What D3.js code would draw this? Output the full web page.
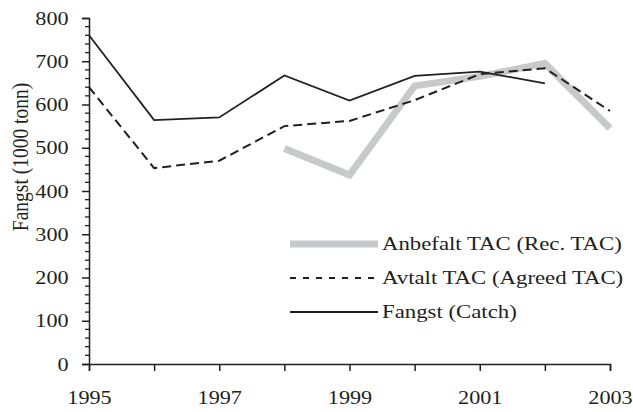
<!DOCTYPE html>
<html lang="en">
<head>
<meta charset="utf-8">
<script src="https://d3js.org/d3.v7.min.js"></script>
<style>
  body { margin: 0; background: #fff; }
  text { font-family: "Liberation Serif", "Times New Roman", serif; fill: #231f20; }
</style>
</head>
<body>
<script>
// data
var years    = [1995, 1996, 1997, 1998, 1999, 2000, 2001, 2002, 2003];
var recTAC   = [null, null, null, 498, 437, 643, 665, 695, 545];
var agreeTAC = [640, 453, 470, 550, 562, 610, 670, 684, 585];
var catchT   = [760, 564, 570, 667, 609, 666, 676, 649, null];
var yTicks   = [0, 100, 200, 300, 400, 500, 600, 700, 800];
var xLabels  = [1995, 1997, 1999, 2001, 2003];
var legendNames = ["Anbefalt TAC (Rec. TAC)", "Avtalt TAC (Agreed TAC)", "Fangst (Catch)"];

var W = 633, H = 412;
var sx = 1.2; // the reference is stretched sideways
var ink = "#231f20";

var svg = d3.select("body").append("svg")
    .attr("width", W)
    .attr("height", H);

var x = d3.scaleLinear().domain([1995, 2003]).range([89, 610]);
var y = d3.scaleLinear().domain([0, 800]).range([364, 18]);

// y axis: minor ticks every 20
var yAxisG = svg.append("g").attr("transform", "translate(89,0)");
yAxisG.selectAll(".minor")
    .data(d3.range(0, 801, 20).filter(function(d) { return d % 100 != 0; }))
    .enter().append("line")
    .attr("x1", -4).attr("x2", 0)
    .attr("y1", function(d) { return y(d); })
    .attr("y2", function(d) { return y(d); })
    .attr("stroke", ink).attr("stroke-width", 1.3);

yAxisG.call(d3.axisLeft(y).tickValues(yTicks).tickSize(7).tickPadding(10))
    .call(function(g) {
        g.select(".domain").attr("stroke", ink).attr("stroke-width", 1.5);
        g.selectAll(".tick line").attr("stroke", ink).attr("stroke-width", 1.5);
        g.selectAll(".tick text")
            .attr("font-family", "Liberation Serif")
            .attr("font-size", 18.5)
            .attr("fill", ink)
            .attr("dy", "0.33em")
            .attr("transform", "scale(" + sx + ",1)");
    });

// x axis: ticks each year, labels every other year
var xAxisG = svg.append("g").attr("transform", "translate(0,364)");
xAxisG.call(d3.axisBottom(x).tickValues(years).tickSize(7).tickPadding(20)
        .tickFormat(function(d) { return xLabels.indexOf(d) >= 0 ? d : ""; }))
    .call(function(g) {
        g.select(".domain").attr("stroke", ink).attr("stroke-width", 1.5);
        g.selectAll(".tick line").attr("stroke", ink).attr("stroke-width", 1.5);
        g.selectAll(".tick text")
            .attr("font-family", "Liberation Serif")
            .attr("font-size", 18.5)
            .attr("fill", ink)
            .attr("transform", "scale(" + sx + ",1)");
    });

// y label
svg.append("text")
    .attr("transform", "translate(28,157) scale(" + sx + ",1) rotate(-90)")
    .attr("text-anchor", "middle")
    .attr("font-size", 19.5)
    .text("Fangst (1000 tonn)");

function series(vals) {
    return years.map(function(yr, i) { return { year: yr, v: vals[i] }; });
}
var line = d3.line()
    .defined(function(d) { return d.v != null; })
    .x(function(d) { return x(d.year); })
    .y(function(d) { return y(d.v); });

svg.append("path")
    .datum(series(recTAC))
    .attr("d", line)
    .attr("fill", "none")
    .attr("stroke", "#c8c9cb")
    .attr("stroke-width", 7);

svg.append("path")
    .datum(series(agreeTAC))
    .attr("d", line)
    .attr("fill", "none")
    .attr("stroke", ink)
    .attr("stroke-width", 2)
    .attr("stroke-dasharray", "9,5");

svg.append("path")
    .datum(series(catchT))
    .attr("d", line)
    .attr("fill", "none")
    .attr("stroke", ink)
    .attr("stroke-width", 1.8);

// legend
var legendStyles = [
    { stroke: "#c8c9cb", width: 7, dash: null },
    { stroke: ink, width: 1.8, dash: "6,7" },
    { stroke: ink, width: 1.8, dash: null }
];
var leg = svg.append("g").selectAll("g")
    .data(legendNames)
    .enter().append("g")
    .attr("transform", function(d, i) { return "translate(290," + (244 + i * 34) + ")"; });

leg.append("line")
    .attr("x1", 0).attr("x2", 88)
    .attr("stroke", function(d, i) { return legendStyles[i].stroke; })
    .attr("stroke-width", function(d, i) { return legendStyles[i].width; })
    .attr("stroke-dasharray", function(d, i) { return legendStyles[i].dash; });

leg.append("text")
    .attr("transform", "translate(92,0) scale(" + sx + ",1)")
    .attr("dy", "0.33em")
    .attr("font-size", 19)
    .text(function(d) { return d; });
</script>
</body>
</html>
